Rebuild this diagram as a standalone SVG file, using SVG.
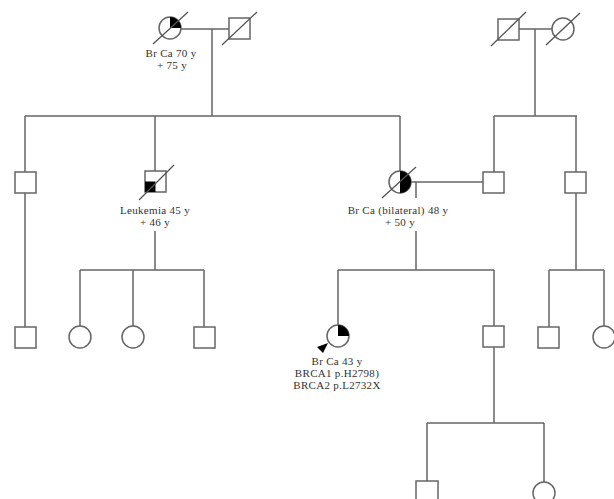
<svg xmlns="http://www.w3.org/2000/svg" width="614" height="499" viewBox="0 0 614 499">
<style>
.ln{stroke:#666;stroke-width:1.5;fill:none}
.sh{stroke:#666;stroke-width:1.5;fill:#fff}
.fl{fill:#000;stroke:none}
.sl{stroke:#555;stroke-width:1.3}
text{font-family:"Liberation Serif","DejaVu Serif",serif;font-size:11px;letter-spacing:0.3px;fill:#333;text-anchor:middle}
</style>
<rect width="614" height="499" fill="#fff"/>
<g id="connectors">
<path class="ln" d="M181,29H229M212,29V116M25,116H400M25,116V172M400,116V171"/>
<path class="ln" d="M519,29H552M535,29V116M494,116H577M494,116V172M576,116V172"/>
<path class="ln" d="M155,116V171M155,231V270M80,270H204M80,270V326M133,270V326M204,270V327M25,193V327"/>
<path class="ln" d="M411,182H483M416,182V198M416,231V270M338,270H494M338,270V325M494,270V326"/>
<path class="ln" d="M576,193V270M549,270H604M549,270V327M604,270V326"/>
<path class="ln" d="M494,347V423M427,423H544M427,423V481M544,423V482"/>
</g>
<g id="n1">
<circle class="sh" cx="170" cy="28" r="11"/>
<path class="fl" d="M170,28V17A11,11 0 0 1 181,28Z"/>
<line class="sl" x1="153" y1="44" x2="188" y2="12"/>
<text x="171" y="57">Br Ca 70 y</text>
<text x="172" y="69">+ 75 y</text>
</g>
<g id="n2">
<rect class="sh" x="229" y="18" width="21" height="21"/>
<line class="sl" x1="222" y1="45" x2="257" y2="12"/>
</g>
<g id="n3">
<rect class="sh" x="498" y="19" width="21" height="21"/>
<line class="sl" x1="491" y1="46" x2="526" y2="12"/>
</g>
<g id="n4">
<circle class="sh" cx="563" cy="29" r="11"/>
<line class="sl" x1="546" y1="45" x2="580" y2="13"/>
</g>
<g id="n5"><rect class="sh" x="15" y="172" width="21" height="21"/></g>
<g id="n6">
<rect class="sh" x="145" y="171" width="21" height="21"/>
<rect class="fl" x="145" y="181.5" width="10.5" height="10.5"/>
<line class="sl" x1="139" y1="200" x2="174" y2="165"/>
<text x="155" y="214">Leukemia 45 y</text>
<text x="155" y="226">+ 46 y</text>
</g>
<g id="n7">
<circle class="sh" cx="400" cy="182" r="11"/>
<path class="fl" d="M400,171A11,11 0 0 1 400,193Z"/>
<line class="sl" x1="382" y1="198" x2="416" y2="167"/>
<text x="398" y="214">Br Ca (bilateral) 48 y</text>
<text x="400" y="226">+ 50 y</text>
</g>
<g id="n8"><rect class="sh" x="483" y="172" width="21" height="21"/></g>
<g id="n9"><rect class="sh" x="565" y="172" width="21" height="21"/></g>
<g id="n10"><rect class="sh" x="15" y="327" width="21" height="21"/></g>
<g id="n11"><circle class="sh" cx="80" cy="337" r="11"/></g>
<g id="n12"><circle class="sh" cx="133" cy="337" r="11"/></g>
<g id="n13"><rect class="sh" x="194" y="327" width="21" height="21"/></g>
<g id="n14">
<circle class="sh" cx="338" cy="336" r="11"/>
<path class="fl" d="M338,336V325A11,11 0 0 1 349,336Z"/>
<path class="fl" d="M328,343L317,347L323,353Z"/>
<text x="337" y="365">Br Ca 43 y</text>
<text x="337" y="377">BRCA1 p.H2798)</text>
<text x="337" y="389">BRCA2 p.L2732X</text>
</g>
<g id="n15"><rect class="sh" x="483" y="326" width="21" height="21"/></g>
<g id="n16"><rect class="sh" x="538" y="327" width="21" height="21"/></g>
<g id="n17"><circle class="sh" cx="604" cy="337" r="11"/></g>
<g id="n18"><rect class="sh" x="416" y="481" width="22" height="22"/></g>
<g id="n19"><circle class="sh" cx="544" cy="493" r="11"/></g>
</svg>
